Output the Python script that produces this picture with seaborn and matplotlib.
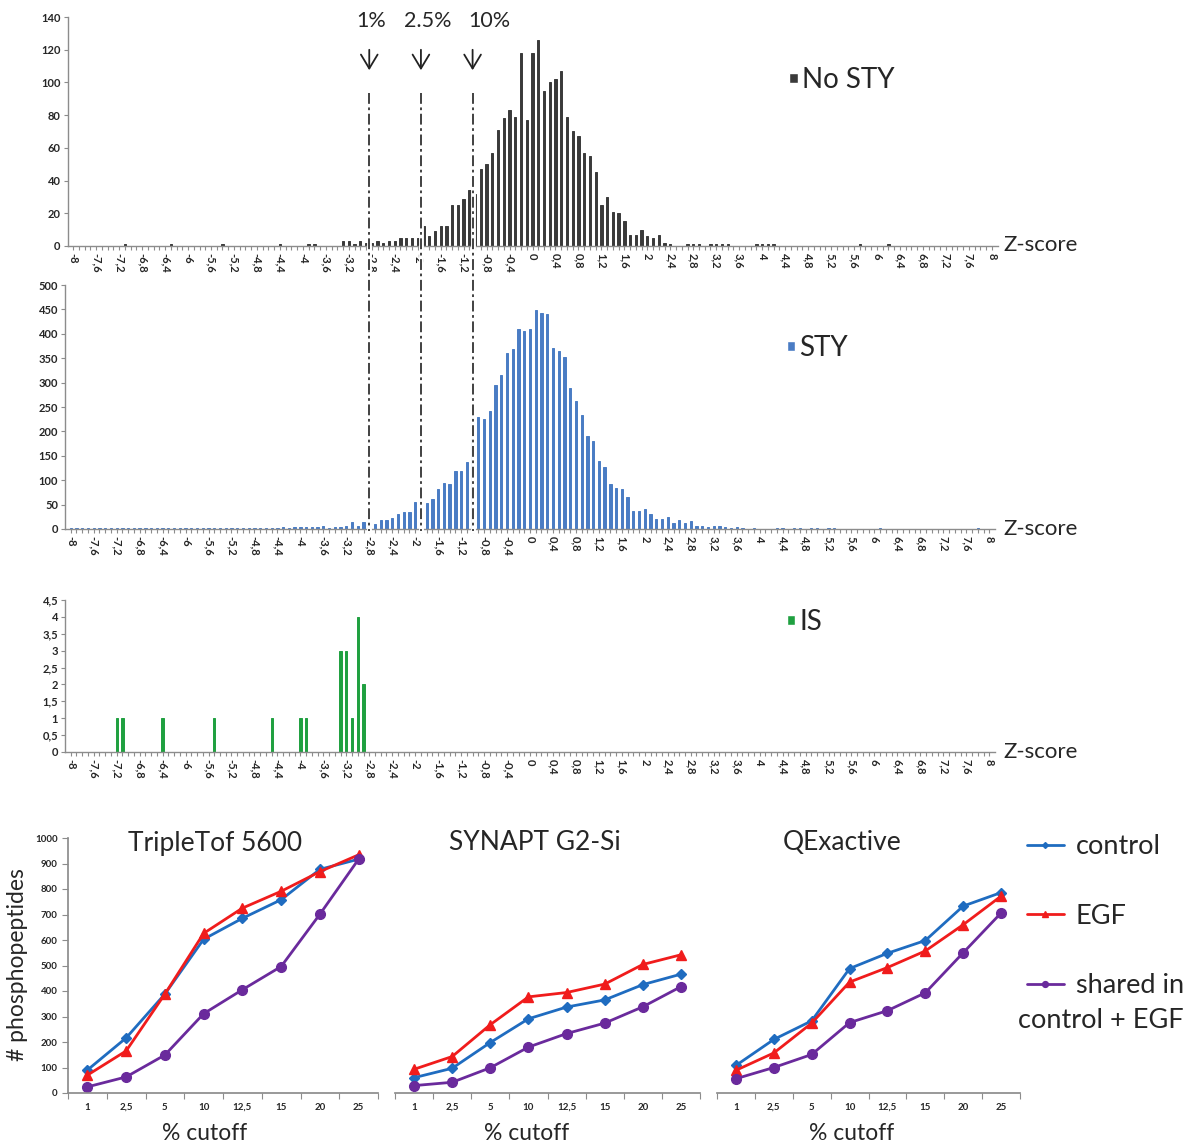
import numpy as np
import pandas as pd
import seaborn as sns
import matplotlib.pyplot as plt
import matplotlib.transforms as mtransforms
from matplotlib.patches import Patch, FancyArrowPatch
from matplotlib.lines import Line2D

sns.set_theme(style="white")
plt.rcParams['font.family'] = ['Lato', 'DejaVu Sans']

# z-score categories, -8 .. 8 in 0.1 steps
z_bins = np.round(np.arange(-80, 81) / 10, 1)

# counts per z bin
no_sty = [0, 0, 0, 0, 0, 0, 0, 0, 0, 1,
          0, 0, 0, 0, 0, 0, 0, 1, 0, 0,
          0, 0, 0, 0, 0, 0, 1, 0, 0, 0,
          0, 0, 0, 0, 0, 0, 1, 0, 0, 0,
          0, 1, 1, 0, 0, 0, 0, 3, 3, 1,
          3, 2, 2, 3, 2, 3, 3, 5, 5, 5,
          5, 12, 6, 9, 12, 12, 25, 25, 29, 34,
          32, 47, 50, 57, 71, 78, 83, 79, 118, 77,
          118, 126, 95, 100, 102, 107, 79, 70, 67, 57,
          55, 45, 25, 30, 21, 20, 15, 7, 7, 10,
          6, 5, 7, 2, 1, 0, 0, 1, 1, 1,
          0, 1, 1, 1, 1, 0, 0, 0, 0, 1,
          1, 1, 1, 0, 0, 0, 0, 0, 0, 0,
          0, 0, 0, 0, 0, 0, 0, 1, 0, 0,
          0, 0, 1, 0, 0, 0, 0, 0, 0, 0,
          0, 0, 0, 0, 0, 0, 0, 0, 0, 0, 0]

sty = [2, 2, 3, 2, 2, 3, 2, 2, 3, 2,
       2, 3, 2, 2, 2, 3, 3, 2, 2, 2,
       3, 2, 3, 3, 3, 2, 3, 2, 2, 3,
       2, 2, 3, 3, 2, 3, 3, 4, 3, 4,
       5, 5, 5, 4, 7, 3, 5, 5, 6, 15,
       7, 14, 12, 10, 18, 18, 23, 30, 34, 34,
       56, 55, 54, 61, 81, 95, 92, 119, 119, 138,
       185, 230, 225, 242, 296, 315, 361, 368, 410, 406,
       410, 449, 442, 440, 370, 365, 353, 288, 263, 234,
       191, 180, 139, 128, 92, 85, 81, 66, 37, 37,
       41, 31, 20, 20, 25, 12, 18, 12, 17, 7,
       7, 5, 7, 7, 5, 2, 5, 2, 1, 2,
       1, 0, 0, 2, 2, 1, 2, 2, 1, 2,
       2, 1, 2, 2, 0, 0, 0, 0, 0, 0,
       0, 2, 0, 0, 0, 0, 0, 0, 0, 0,
       0, 0, 0, 0, 0, 0, 0, 0, 2, 0, 0]

is_z = [-7.2, -7.1, -6.4, -5.5, -4.5, -4.0, -3.9, -3.3, -3.2, -3.1, -3.0, -2.9]
is_n = [1, 1, 1, 1, 1, 1, 1, 3, 3, 1, 4, 2]

cutoff_z = [-2.8, -1.9, -1.0]
cutoff_labels = ["1%", "2.5%", "10%"]
cutoff_label_x = [371, 428, 489]

# bottom panels
cutoffs = ["1", "2,5", "5", "10", "12,5", "15", "20", "25"]
triple_control = [90, 216, 388, 603, 685, 758, 877, 917]
triple_egf = [70, 165, 388, 626, 725, 791, 868, 934]
triple_shared = [24, 63, 149, 311, 405, 496, 701, 917]
synapt_control = [60, 97, 198, 291, 337, 365, 425, 466]
synapt_egf = [93, 143, 268, 377, 394, 427, 504, 542]
synapt_shared = [29, 42, 99, 180, 233, 274, 338, 417]
qe_control = [108, 210, 283, 488, 548, 598, 733, 786]
qe_egf = [89, 157, 274, 435, 492, 557, 660, 772]
qe_shared = [56, 100, 151, 276, 323, 393, 550, 706]

W, H = 1190, 1146
AX_GRAY = "#8c8c8c"
TXT = "#262626"


def rect(l, t, r, b):
    return [l / W, 1 - b / H, (r - l) / W, (b - t) / H]


def comma(v):
    return f"{v:g}".replace(".", ",")


fig = plt.figure(figsize=(W / 100, H / 100), dpi=100)


def hist_panel(r, values, color, label, ymax, ystep, leg_y):
    ax = fig.add_axes(r)
    sns.barplot(x=z_bins, y=values, color=color, saturation=1, width=0.4,
                edgecolor=color, linewidth=0.7, ax=ax)
    ax.set_xlim(-1, len(z_bins))
    ax.set_ylim(0, ymax)
    ax.set_xlabel("")
    ax.set_ylabel("")
    ax.set_xticks(range(0, len(z_bins), 4))
    ax.set_xticklabels([comma(z) for z in z_bins[::4]], rotation=-90,
                       fontsize=8, fontweight="bold", color=TXT)
    ax.set_xticks(range(len(z_bins)), minor=True)
    yt = np.arange(0, ymax + ystep / 2, ystep)
    ax.set_yticks(yt)
    ax.set_yticklabels([comma(round(v, 1)) for v in yt], fontsize=8,
                       fontweight="bold", color=TXT)
    ax.tick_params(axis="x", which="both", direction="out", length=3,
                   color=AX_GRAY, width=0.8, bottom=True, pad=2)
    ax.tick_params(axis="y", direction="out", length=3, color=AX_GRAY,
                   width=0.8, left=True, pad=2)
    for s in ["top", "right"]:
        ax.spines[s].set_visible(False)
    for s in ["left", "bottom"]:
        ax.spines[s].set_color(AX_GRAY)
        ax.spines[s].set_linewidth(1)
    ax.legend(handles=[Patch(facecolor=color, label=label)],
              loc="center left", bbox_to_anchor=(0.776, leg_y),
              frameon=False, fontsize=20, handlelength=0.3,
              handleheight=0.22, handletextpad=0.15, borderpad=0,
              borderaxespad=0)
    return ax


ax_top = hist_panel(rect(67.5, 17, 997.5, 246), no_sty, "#3a3a3a", "No STY",
                    140, 20, 0.725)
ax_mid = hist_panel(rect(65, 285, 995, 529), sty, "#4a7cc4", "STY",
                    500, 50, 0.742)

is_full = np.zeros(len(z_bins))
for z, n in zip(is_z, is_n):
    is_full[int(round((z + 8) * 10))] = n
ax_is = hist_panel(rect(65, 600, 995, 752), is_full, "#1fa040", "IS",
                   4.5, 0.5, 0.855)

for yy in [245, 529, 752]:
    fig.text(1003 / W, 1 - yy / H, "Z-score", fontsize=16, color=TXT,
             ha="left", va="center")

# cut-off lines through the two upper histograms
trans = mtransforms.blended_transform_factory(ax_mid.transData,
                                              fig.transFigure)
for z, lab, lx in zip(cutoff_z, cutoff_labels, cutoff_label_x):
    xi = (z + 8) * 10
    y0, y1 = 1 - 93 / H, 1 - 531 / H
    fig.add_artist(Line2D([xi, xi], [y0, y1], transform=trans,
                          color="white", lw=3.5))
    fig.add_artist(Line2D([xi, xi], [y0, y1], transform=trans,
                          color="#333333", lw=1.3,
                          linestyle=(0, (6, 2, 1.5, 2))))
    fig.add_artist(FancyArrowPatch((xi, 1 - 47 / H), (xi, 1 - 73 / H),
                                   transform=trans,
                                   arrowstyle="->,head_length=0.5,head_width=0.3",
                                   mutation_scale=20, lw=1.3, color="#222222"))
    fig.text(lx / W, 1 - 21 / H, lab, fontsize=15.5, color=TXT,
             ha="center", va="center")

# bottom line panels
styles = [("#1f6cc0", "D", 5), ("#f01c1c", "^", 7), ("#6a2a9c", "o", 7)]


def line_panel(r, series, title, title_x, xlab_x, show_y):
    ax = fig.add_axes(r)
    for vals, (c, m, ms) in zip(series, styles):
        sns.pointplot(x=cutoffs, y=vals, color=c, markers=m, linestyles="-",
                      markersize=ms, linewidth=2, markeredgewidth=1,
                      errorbar=None, ax=ax)
    ax.set_xlim(-0.5, len(cutoffs) - 0.5)
    ax.set_ylim(0, 1000)
    ax.set_xlabel("")
    ax.set_ylabel("")
    ax.set_xticks(np.arange(-0.5, len(cutoffs), 1))
    ax.set_xticklabels([])
    ax.set_xticks(range(len(cutoffs)), minor=True)
    ax.set_xticklabels(cutoffs, minor=True, fontsize=7, fontweight="bold",
                       color=TXT)
    ax.tick_params(axis="x", which="major", direction="out", length=4,
                   color=AX_GRAY, width=0.8, bottom=True)
    ax.tick_params(axis="x", which="minor", length=0, pad=7)
    for s in ["top", "right"]:
        ax.spines[s].set_visible(False)
    ax.spines["bottom"].set_color(AX_GRAY)
    if show_y:
        ax.set_yticks(range(0, 1001, 100))
        ax.set_yticklabels([str(v) for v in range(0, 1001, 100)], fontsize=7,
                           fontweight="bold", color=TXT)
        ax.tick_params(axis="y", direction="out", length=4, color=AX_GRAY,
                       width=0.8, left=True)
        ax.spines["left"].set_color(AX_GRAY)
    else:
        ax.spines["left"].set_visible(False)
        ax.set_yticks([])
    fig.text(title_x / W, 1 - 843 / H, title, fontsize=19, color=TXT,
             ha="center", va="center")
    fig.text(xlab_x / W, 1 - 1133 / H, "% cutoff", fontsize=16.5, color=TXT,
             ha="center", va="center")
    return ax


line_panel(rect(68, 838, 378, 1093),
           [triple_control, triple_egf, triple_shared],
           "TripleTof 5600", 215, 205, True)
line_panel(rect(395, 838, 700, 1093),
           [synapt_control, synapt_egf, synapt_shared],
           "SYNAPT G2-Si", 535, 527, False)
line_panel(rect(717, 838, 1020, 1093),
           [qe_control, qe_egf, qe_shared],
           "QExactive", 842, 852, False)

fig.text(18 / W, 1 - 965 / H, "# phosphopeptides", fontsize=16.5, color=TXT,
         rotation=90, ha="center", va="center")

handles = [Line2D([], [], color=c, marker=m, markersize=ms * 0.6, lw=2)
           for c, m, ms in styles]
fig.legend(handles, ["control", "EGF", "shared in"], loc="upper left",
           bbox_to_anchor=(1027 / W, 1 - 834 / H), frameon=False,
           fontsize=19.5, labelspacing=1.65, handlelength=1.35,
           handletextpad=0.45, borderpad=0, borderaxespad=0)
fig.text(1184 / W, 1 - 1020 / H, "control + EGF", fontsize=19.5, color=TXT,
         ha="right", va="center")

fig.savefig("out.png", dpi=100)
